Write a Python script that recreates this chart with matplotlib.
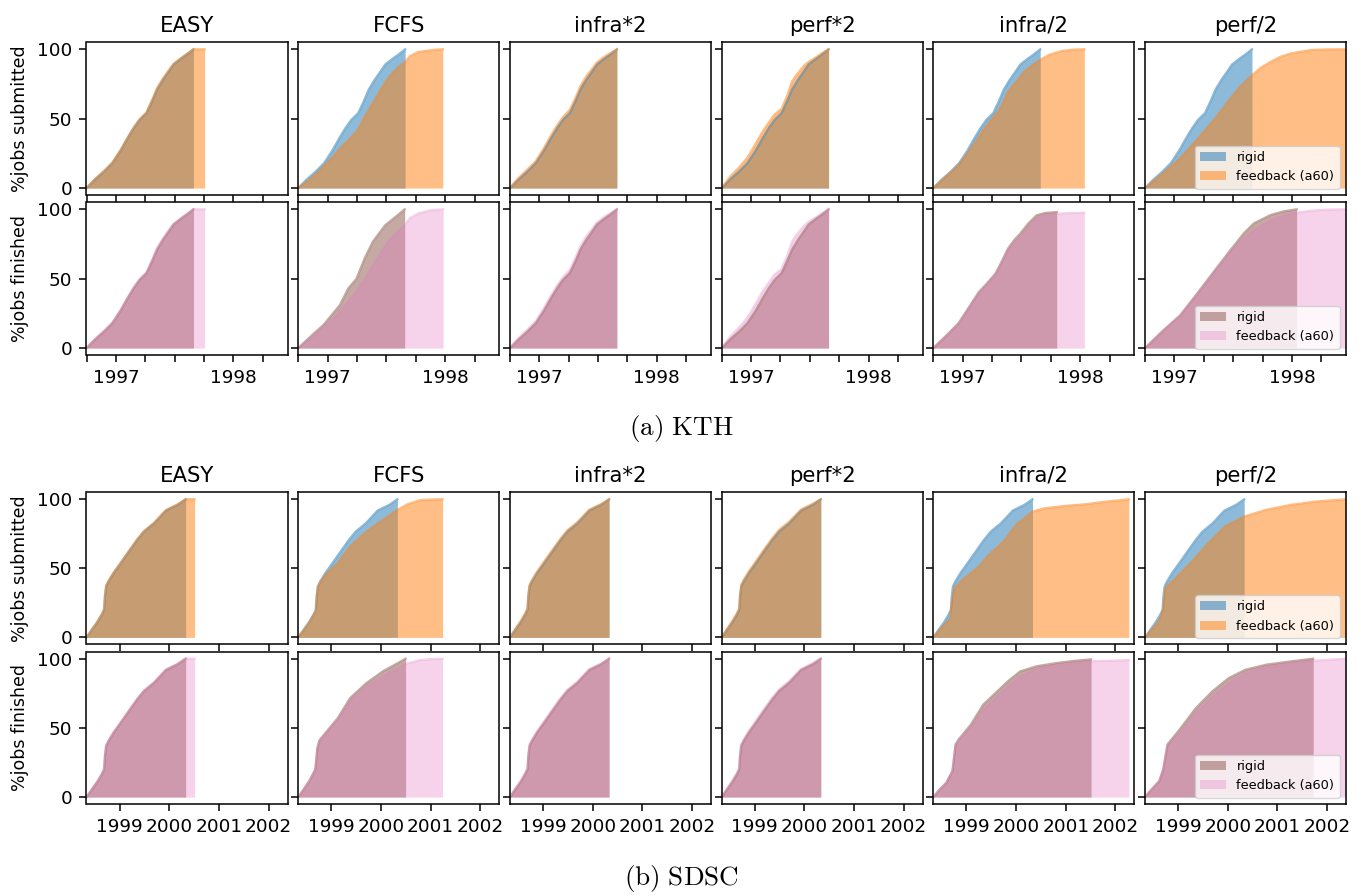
import matplotlib
matplotlib.use('Agg')
import matplotlib.pyplot as plt
from matplotlib.ticker import MultipleLocator, FuncFormatter

plt.rcParams['mathtext.fontset'] = 'cm'
plt.rcParams['font.family'] = ['DejaVu Sans']
plt.rcParams['xtick.labelsize'] = 13.3
plt.rcParams['ytick.labelsize'] = 13.3
plt.rcParams['xtick.major.size'] = 5
plt.rcParams['ytick.major.size'] = 5
plt.rcParams['xtick.major.width'] = 1.1
plt.rcParams['ytick.major.width'] = 1.1
plt.rcParams['xtick.major.pad'] = 5.2
plt.rcParams['ytick.major.pad'] = 5.2
plt.rcParams['axes.linewidth'] = 1.1

# ---------------- data (decimal years, % of jobs) ----------------
POLICIES = ["EASY", "FCFS", "infra*2", "perf*2", "infra/2", "perf/2"]
SERIES = ["rigid", "feedback (a60)"]

# ---- KTH ----
KTH_SUB_RIGID_X = [1996.75, 1996.82, 1996.90, 1996.97, 1997.04, 1997.10, 1997.15, 1997.20, 1997.26,
                   1997.31, 1997.35, 1997.40, 1997.45, 1997.49, 1997.55, 1997.60, 1997.66]
KTH_SUB_RIGID_Y = [0, 6, 12, 18, 27, 36, 43, 49, 54, 63, 71, 78, 84, 89, 93, 96, 100]

KTH_EASY_FB_X = KTH_SUB_RIGID_X + [1997.755]
KTH_EASY_FB_Y = [0, 6.5, 12.5, 18.5, 27.5, 36.5, 43.5, 49.5, 54.5, 64, 72, 79, 85, 89.5, 93.5, 96.5, 100, 100]
KTH_FCFS_SUB_FB_X = [1996.75, 1996.83, 1996.90, 1996.97, 1997.04, 1997.10, 1997.17, 1997.25, 1997.32, 1997.39,
                     1997.46, 1997.53, 1997.60, 1997.66, 1997.70, 1997.77, 1997.85, 1997.92, 1997.98]
KTH_FCFS_SUB_FB_Y = [0, 5, 10, 16, 22, 28, 34, 41, 52, 62, 72, 81, 87, 91, 95, 98, 99, 99.7, 100]
KTH_INFRA2X_FB_Y = [0, 7, 13.5, 19.5, 29, 38, 45, 51, 56.5, 65.5, 73.5, 80.5, 86, 90.5, 94.5, 97, 100]
KTH_PERF2X_FB_Y = [0, 8, 15, 22, 32, 41, 47, 53, 57, 67, 77, 83, 88, 91, 94, 97, 100]
KTH_INFRAH_SUB_FB_X = [1996.75, 1996.82, 1996.895, 1996.96, 1997.035, 1997.10, 1997.176, 1997.25, 1997.316,
                       1997.386, 1997.456, 1997.526, 1997.596, 1997.656, 1997.737, 1997.842, 1997.947, 1998.035]
KTH_INFRAH_SUB_FB_Y = [0, 5.5, 11, 16, 24.5, 32, 42, 50, 57, 69.5, 76.7, 84, 88.7, 92.3, 96, 98.8, 99.8, 100]
KTH_PERFH_SUB_FB_X = [1996.75, 1996.906, 1997.049, 1997.191, 1997.334, 1997.40, 1997.477, 1997.57, 1997.663,
                      1997.74, 1997.82, 1997.90, 1997.991, 1998.163, 1998.30, 1998.46]
KTH_PERFH_SUB_FB_Y = [0, 10.8, 21.6, 34.8, 49, 56, 64.7, 74, 81.5, 87, 91, 94.5, 97, 99.5, 99.9, 100]

KTH_FCFS_FIN_RIGID_X = [1996.75, 1996.87, 1996.965, 1997.105, 1997.176, 1997.246, 1997.316, 1997.386,
                        1997.49, 1997.596, 1997.656]
KTH_FCFS_FIN_RIGID_Y = [0, 9.5, 16.7, 31, 43, 50, 64.8, 76.8, 88.5, 95.7, 100]
KTH_FCFS_FIN_FB_X = [1996.75, 1996.965, 1997.105, 1997.246, 1997.386, 1997.526, 1997.656, 1997.702,
                     1997.772, 1997.877, 1997.983]
KTH_FCFS_FIN_FB_Y = [0, 14.4, 26.3, 40.7, 59.8, 78.5, 88.5, 93.8, 97, 99.3, 100]
KTH_INFRAH_FIN_RIGID_X = [1996.75, 1996.86, 1996.965, 1997.05, 1997.14, 1997.20, 1997.28, 1997.33, 1997.386,
                          1997.44, 1997.49, 1997.56, 1997.63, 1997.70, 1997.80]
KTH_INFRAH_FIN_RIGID_Y = [0, 9, 18, 29, 40.7, 46, 53.8, 62, 71.8, 78, 82.5, 90, 95.7, 97.3, 98]
KTH_INFRAH_FIN_FB_X = [1996.75, 1996.86, 1996.965, 1997.05, 1997.14, 1997.20, 1997.28, 1997.33, 1997.386,
                       1997.44, 1997.49, 1997.56, 1997.63, 1997.70, 1997.80, 1997.91, 1998.035]
KTH_INFRAH_FIN_FB_Y = [0, 8.5, 17, 28, 39.5, 45, 52.5, 60.5, 70, 76, 80, 88, 93.5, 95.8, 96.8, 97.3, 97.5]
KTH_PERFH_FIN_RIGID_X = [1996.75, 1996.906, 1997.049, 1997.191, 1997.334, 1997.477, 1997.591, 1997.677,
                         1997.82, 1997.93, 1998.04]
KTH_PERFH_FIN_RIGID_Y = [0, 12.8, 23.6, 39, 54.9, 70.6, 82.7, 89.9, 95.9, 98.5, 100]
KTH_PERFH_FIN_FB_X = [1996.75, 1996.906, 1997.049, 1997.191, 1997.334, 1997.477, 1997.591, 1997.677,
                      1997.82, 1997.991, 1998.163, 1998.30, 1998.46]
KTH_PERFH_FIN_FB_Y = [0, 12.5, 23, 38, 53.5, 69.4, 79, 85, 92.3, 97, 99, 99.8, 100]

# ---- SDSC ----
SDSC_SUB_RIGID_X = [1998.333, 1998.45, 1998.55, 1998.64, 1998.687, 1998.705, 1998.728, 1998.776, 1998.878,
                    1999.014, 1999.184, 1999.354, 1999.49, 1999.694, 1999.932, 2000.17, 2000.33]
SDSC_SUB_RIGID_Y = [0, 6, 11, 16.5, 20, 30, 37, 40.5, 46.5, 53.3, 62, 70.6, 76.6, 82.6, 91.8, 96, 100]

SDSC_EASY_FB_X = SDSC_SUB_RIGID_X + [2000.51]
SDSC_EASY_FB_Y = [0, 6.3, 11.3, 16.8, 20.3, 30.5, 37.5, 41, 47, 53.8, 62.5, 71, 77, 83, 92.2, 96.4, 100, 100]
SDSC_FCFS_SUB_FB_X = [1998.333, 1998.45, 1998.55, 1998.64, 1998.687, 1998.705, 1998.728, 1998.776, 1998.884,
                      1999.132, 1999.38, 1999.71, 2000.04, 2000.33, 2000.537, 2000.785, 2001.0, 2001.24]
SDSC_FCFS_SUB_FB_Y = [0, 5.5, 10.5, 16, 19, 29, 36, 40, 45.4, 53.8, 65.9, 76.7, 85.1, 92.3, 96.4, 99.3, 99.8, 100]
SDSC_INFRA2X_FB_Y = [0, 6.5, 11.8, 17.5, 21, 31, 38, 41.5, 47.5, 54.5, 63, 71.5, 77.5, 83.5, 92.5, 96.5, 100]
SDSC_PERF2X_FB_Y = [0, 6.5, 12, 17.5, 21, 31, 38, 41.5, 47.5, 54.5, 63.5, 71.8, 77.8, 83.8, 92.5, 96.8, 100]
SDSC_INFRAH_SUB_FB_X = [1998.333, 1998.45, 1998.594, 1998.677, 1998.70, 1998.76, 1998.925, 1999.256, 1999.42,
                        1999.75, 2000.0, 2000.33, 2000.58, 2000.99, 2001.4, 2001.82, 2002.27]
SDSC_INFRAH_SUB_FB_Y = [0, 5, 10.5, 14.2, 25, 35.8, 41.8, 51.4, 58.6, 69.5, 81.5, 91.1, 93.5, 95.2, 96.4, 98.3, 100]
SDSC_PERFH_SUB_FB_X = [1998.333, 1998.45, 1998.619, 1998.702, 1998.743, 1998.95, 1999.28, 1999.61, 1999.94,
                       2000.33, 2000.768, 2001.264, 2001.76, 2002.38]
SDSC_PERFH_SUB_FB_Y = [0, 5, 11.8, 21.4, 35.8, 43, 55, 68.3, 80.3, 87.5, 92.3, 95.9, 98.3, 100]

SDSC_FCFS_FIN_RIGID_X = [1998.333, 1998.45, 1998.553, 1998.677, 1998.718, 1998.76, 1998.884, 1999.132,
                         1999.38, 1999.71, 2000.04, 2000.30, 2000.495]
SDSC_FCFS_FIN_RIGID_Y = [0, 6, 11.5, 20, 35.6, 41, 46.4, 57.2, 71.6, 82.5, 90.9, 96, 100]
SDSC_FCFS_FIN_FB_X = [1998.333, 1998.45, 1998.553, 1998.677, 1998.718, 1998.76, 1998.884, 1999.132, 1999.38,
                      1999.71, 2000.04, 2000.495, 2000.785, 2001.0, 2001.24]
SDSC_FCFS_FIN_FB_Y = [0, 5.8, 11, 19.5, 34.5, 40, 45.5, 56, 69.2, 80, 87.3, 96.2, 99, 99.7, 100]
SDSC_INFRAH_FIN_RIGID_X = [1998.333, 1998.45, 1998.594, 1998.718, 1998.78, 1998.842, 1999.09, 1999.338,
                           1999.586, 1999.834, 2000.082, 2000.413, 2000.826, 2001.2, 2001.51]
SDSC_INFRAH_FIN_RIGID_Y = [0, 5, 10.3, 18.8, 38, 41.6, 52.4, 66.8, 75.2, 83.6, 90.8, 94.5, 96.9, 98.5, 99.5]
SDSC_INFRAH_FIN_FB_X = [1998.333, 1998.45, 1998.594, 1998.718, 1998.78, 1998.842, 1999.09, 1999.338,
                        1999.586, 1999.834, 2000.082, 2000.413, 2000.826, 2001.51, 2002.27]
SDSC_INFRAH_FIN_FB_Y = [0, 5, 10.3, 18.8, 37, 40.5, 50, 63.2, 71.6, 80, 87.3, 92.8, 95.7, 98.1, 99]
SDSC_PERFH_FIN_RIGID_X = [1998.333, 1998.45, 1998.619, 1998.70, 1998.784, 1999.03, 1999.36, 1999.69, 2000.02,
                          2000.355, 2000.768, 2001.264, 2001.72]
SDSC_PERFH_FIN_RIGID_Y = [0, 5, 11.5, 20, 38, 48.8, 64.4, 76.4, 86, 92, 95.6, 98, 100]
SDSC_PERFH_FIN_FB_X = [1998.333, 1998.45, 1998.619, 1998.70, 1998.784, 1999.03, 1999.36, 1999.69, 2000.02,
                       2000.355, 2000.768, 2001.264, 2001.72, 2002.38]
SDSC_PERFH_FIN_FB_Y = [0, 5, 11.5, 20, 37, 46.4, 60.8, 72.8, 82.5, 89.7, 93.8, 96.9, 98.5, 100]

# per panel: (submitted rigid, submitted feedback, finished rigid, finished feedback)
KTH_PANELS = [
    ((KTH_SUB_RIGID_X, KTH_SUB_RIGID_Y), (KTH_EASY_FB_X, KTH_EASY_FB_Y),
     (KTH_SUB_RIGID_X, KTH_SUB_RIGID_Y), (KTH_EASY_FB_X, KTH_EASY_FB_Y)),
    ((KTH_SUB_RIGID_X, KTH_SUB_RIGID_Y), (KTH_FCFS_SUB_FB_X, KTH_FCFS_SUB_FB_Y),
     (KTH_FCFS_FIN_RIGID_X, KTH_FCFS_FIN_RIGID_Y), (KTH_FCFS_FIN_FB_X, KTH_FCFS_FIN_FB_Y)),
    ((KTH_SUB_RIGID_X, KTH_SUB_RIGID_Y), (KTH_SUB_RIGID_X, KTH_INFRA2X_FB_Y),
     (KTH_SUB_RIGID_X, KTH_SUB_RIGID_Y), (KTH_SUB_RIGID_X, KTH_INFRA2X_FB_Y)),
    ((KTH_SUB_RIGID_X, KTH_SUB_RIGID_Y), (KTH_SUB_RIGID_X, KTH_PERF2X_FB_Y),
     (KTH_SUB_RIGID_X, KTH_SUB_RIGID_Y), (KTH_SUB_RIGID_X, KTH_PERF2X_FB_Y)),
    ((KTH_SUB_RIGID_X, KTH_SUB_RIGID_Y), (KTH_INFRAH_SUB_FB_X, KTH_INFRAH_SUB_FB_Y),
     (KTH_INFRAH_FIN_RIGID_X, KTH_INFRAH_FIN_RIGID_Y), (KTH_INFRAH_FIN_FB_X, KTH_INFRAH_FIN_FB_Y)),
    ((KTH_SUB_RIGID_X, KTH_SUB_RIGID_Y), (KTH_PERFH_SUB_FB_X, KTH_PERFH_SUB_FB_Y),
     (KTH_PERFH_FIN_RIGID_X, KTH_PERFH_FIN_RIGID_Y), (KTH_PERFH_FIN_FB_X, KTH_PERFH_FIN_FB_Y)),
]
SDSC_PANELS = [
    ((SDSC_SUB_RIGID_X, SDSC_SUB_RIGID_Y), (SDSC_EASY_FB_X, SDSC_EASY_FB_Y),
     (SDSC_SUB_RIGID_X, SDSC_SUB_RIGID_Y), (SDSC_EASY_FB_X, SDSC_EASY_FB_Y)),
    ((SDSC_SUB_RIGID_X, SDSC_SUB_RIGID_Y), (SDSC_FCFS_SUB_FB_X, SDSC_FCFS_SUB_FB_Y),
     (SDSC_FCFS_FIN_RIGID_X, SDSC_FCFS_FIN_RIGID_Y), (SDSC_FCFS_FIN_FB_X, SDSC_FCFS_FIN_FB_Y)),
    ((SDSC_SUB_RIGID_X, SDSC_SUB_RIGID_Y), (SDSC_SUB_RIGID_X, SDSC_INFRA2X_FB_Y),
     (SDSC_SUB_RIGID_X, SDSC_SUB_RIGID_Y), (SDSC_SUB_RIGID_X, SDSC_INFRA2X_FB_Y)),
    ((SDSC_SUB_RIGID_X, SDSC_SUB_RIGID_Y), (SDSC_SUB_RIGID_X, SDSC_PERF2X_FB_Y),
     (SDSC_SUB_RIGID_X, SDSC_SUB_RIGID_Y), (SDSC_SUB_RIGID_X, SDSC_PERF2X_FB_Y)),
    ((SDSC_SUB_RIGID_X, SDSC_SUB_RIGID_Y), (SDSC_INFRAH_SUB_FB_X, SDSC_INFRAH_SUB_FB_Y),
     (SDSC_INFRAH_FIN_RIGID_X, SDSC_INFRAH_FIN_RIGID_Y), (SDSC_INFRAH_FIN_FB_X, SDSC_INFRAH_FIN_FB_Y)),
    ((SDSC_SUB_RIGID_X, SDSC_SUB_RIGID_Y), (SDSC_PERFH_SUB_FB_X, SDSC_PERFH_SUB_FB_Y),
     (SDSC_PERFH_FIN_RIGID_X, SDSC_PERFH_FIN_RIGID_Y), (SDSC_PERFH_FIN_FB_X, SDSC_PERFH_FIN_FB_Y)),
]

YTICKS = [0, 50, 100]
ROW_LABELS = ["%jobs submitted", "%jobs finished"]
CAPTIONS = [r"$\mathrm{(a)\ KTH}$", r"$\mathrm{(b)\ SDSC}$"]

# ---------------- styling / layout ----------------
TOP_STYLE = [("#1f77b4", 0.5), ("#ff7f0e", 0.5)]
BOT_STYLE = [("#8c564b", 0.5), ("#e377c2", 0.32)]

W, H = 1362, 896
fig = plt.figure(figsize=(W / 100, H / 100), dpi=100)


def px_axes(left, top, width, height, **kw):
    return fig.add_axes([left / W, 1 - (top + height) / H, width / W, height / H], **kw)


COL_LEFT0, COL_STEP, COL_W = 86.5, 211.7, 201
GROUPS = [
    dict(panels=KTH_PANELS, rows=[(42.3, 152.7), (202.3, 152.7)], step=0.25, caption_y=428),
    dict(panels=SDSC_PANELS, rows=[(492.3, 152.0), (651.7, 152.3)], step=1.0, caption_y=878),
]


def year_fmt(v, pos):
    return "%d" % round(v) if abs(v - round(v)) < 1e-6 else ""


def draw_area(ax, xy, style, label):
    x, y = xy
    color, alpha = style
    ax.fill_between(x, y, 0, color=color, alpha=alpha, linewidth=0, label=label)
    ax.plot(x, y, color=color, alpha=alpha, linewidth=1.6)


for gi, g in enumerate(GROUPS):
    allx = [v for p in g["panels"] for s in p for v in s[0]]
    xmin, xmax = min(allx), max(allx)
    for ci, (title, panel) in enumerate(zip(POLICIES, g["panels"])):
        left = COL_LEFT0 + COL_STEP * ci
        for ri in range(2):
            top, h = g["rows"][ri]
            ax = px_axes(left, top, COL_W, h)
            styles = TOP_STYLE if ri == 0 else BOT_STYLE
            rigid, fb = (panel[0], panel[1]) if ri == 0 else (panel[2], panel[3])
            draw_area(ax, rigid, styles[0], SERIES[0])
            draw_area(ax, fb, styles[1], SERIES[1])
            ax.set_xlim(xmin, xmax)
            ax.set_ylim(-5, 105)
            ax.set_yticks(YTICKS)
            ax.xaxis.set_major_locator(MultipleLocator(g["step"]))
            ax.xaxis.set_major_formatter(FuncFormatter(year_fmt))
            ax.tick_params(labelsize=13.3)
            if ri == 0:
                ax.set_title(title, fontsize=15.3, pad=7.5)
                ax.tick_params(axis="x", labelbottom=False)
            if ci != 0:
                ax.tick_params(axis="y", labelleft=False)
            else:
                ax.set_ylabel(ROW_LABELS[ri], fontsize=12.5, labelpad=6)
            if ci == len(POLICIES) - 1:
                ax.legend(loc="lower right", fontsize=9.3)
    fig.text(0.5, 1 - g["caption_y"] / H, CAPTIONS[gi], fontsize=19.5, ha="center", va="center")

fig.savefig("out.png", dpi=100)
